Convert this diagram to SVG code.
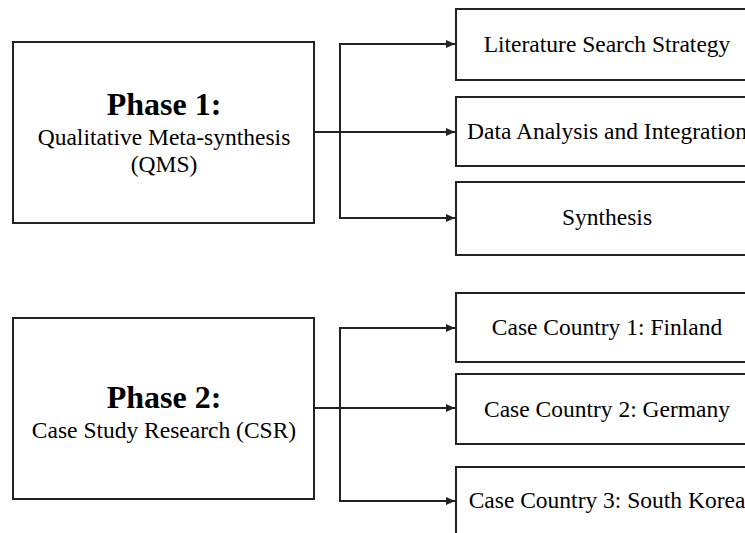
<svg xmlns="http://www.w3.org/2000/svg" width="745" height="533" viewBox="0 0 745 533">
<style>
.box{fill:#fff;stroke:#222;stroke-width:2}
.t{font-family:"Liberation Serif","Times New Roman",serif;font-size:23.5px;fill:#000;text-anchor:middle}
.h{font-family:"Liberation Serif","Times New Roman",serif;font-size:32px;font-weight:bold;fill:#000;text-anchor:middle}
.c{fill:none;stroke:#222;stroke-width:2}
</style>
<defs>
<marker id="ah" markerUnits="userSpaceOnUse" markerWidth="10" markerHeight="10" refX="9" refY="4" orient="auto">
<path d="M0,0 L9,4 L0,8 z" fill="#222"/>
</marker>
</defs>
<rect width="745" height="533" fill="#fff"/>
<g id="connectors">
<path class="c" d="M314,132 H455" marker-end="url(#ah)"/>
<path class="c" d="M340,218 V44 H455" marker-end="url(#ah)"/>
<path class="c" d="M340,44 V218 H455" marker-end="url(#ah)"/>
<path class="c" d="M314,408 H455" marker-end="url(#ah)"/>
<path class="c" d="M340,501 V328 H455" marker-end="url(#ah)"/>
<path class="c" d="M340,328 V501 H455" marker-end="url(#ah)"/>
</g>
<g id="phase1">
<rect class="box" x="13" y="42" width="301" height="181"/>
<text class="h" x="164" y="115">Phase 1:</text>
<text class="t" x="164" y="145">Qualitative Meta-synthesis</text>
<text class="t" x="164" y="172">(QMS)</text>
</g>
<g id="lit">
<rect class="box" x="456" y="9" width="302" height="71"/>
<text class="t" x="607" y="52">Literature Search Strategy</text>
</g>
<g id="data">
<rect class="box" x="456" y="97" width="302" height="69"/>
<text class="t" x="607" y="139">Data Analysis and Integration</text>
</g>
<g id="synth">
<rect class="box" x="456" y="182" width="302" height="73"/>
<text class="t" x="607" y="225">Synthesis</text>
</g>
<g id="phase2">
<rect class="box" x="13" y="318" width="301" height="181"/>
<text class="h" x="164" y="408">Phase 2:</text>
<text class="t" x="164" y="438">Case Study Research (CSR)</text>
</g>
<g id="finland">
<rect class="box" x="456" y="293" width="302" height="69"/>
<text class="t" x="607" y="335">Case Country 1: Finland</text>
</g>
<g id="germany">
<rect class="box" x="456" y="374" width="302" height="70"/>
<text class="t" x="607" y="417">Case Country 2: Germany</text>
</g>
<g id="korea">
<rect class="box" x="456" y="467" width="302" height="75"/>
<text class="t" x="607" y="508">Case Country 3: South Korea</text>
</g>
</svg>
